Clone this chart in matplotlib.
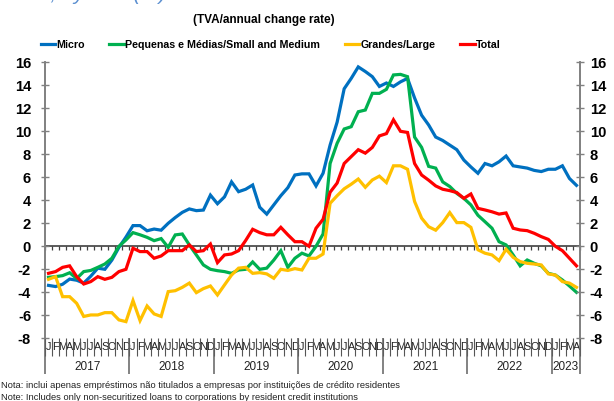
import matplotlib
matplotlib.use('Agg')
import matplotlib.pyplot as plt
from matplotlib import font_manager as fm
import numpy as np

# ---------------- data ----------------
month_letters = ['J', 'F', 'M', 'A', 'M', 'J', 'J', 'A', 'S', 'O', 'N', 'D']
years = ['2017', '2018', '2019', '2020', '2021', '2022', '2023']
n_months = 76  # Jan 2017 .. Apr 2023

micro = [-3.4, -3.5, -3.3, -2.85, -2.95, -3.2, -2.6, -1.9, -2.0, -1.2,
         -0.1, 0.8, 1.8, 1.8, 1.35, 1.5, 1.4, 2.0, 2.5, 2.95,
         3.25, 3.1, 3.15, 4.45, 3.7, 4.3, 5.6, 4.75, 4.96, 5.33,
         3.4, 2.8, 3.6, 4.4, 5.1, 6.2, 6.3, 6.3, 5.25, 6.35,
         8.8, 10.8, 13.7, 14.6, 15.6, 15.2, 14.75, 13.9, 14.2, 13.9,
         14.3, 14.6, 12.9, 11.4, 10.55, 9.5, 9.2, 8.8, 8.4, 7.5,
         6.9, 6.35, 7.2, 7.0, 7.35, 7.85, 7.0, 6.9, 6.8, 6.6,
         6.5, 6.7, 6.7, 7.0, 5.9, 5.3]

pme = [-2.7, -2.64, -2.55, -2.3, -2.8, -2.2, -2.1, -1.83, -1.54, -1.04,
       0.0, 0.55, 1.19, 1.0, 0.78, 0.49, 0.67, -0.09, 0.99, 1.07,
       0.12, -0.75, -1.62, -2.0, -2.12, -2.2, -2.35, -2.06, -2.0, -1.36,
       -2.0, -1.9, -1.2, -0.38, -1.83, -1.04, -0.6, -0.84, 0.0, 1.07,
       7.2, 8.96, 10.2, 10.4, 11.7, 11.85, 13.3, 13.3, 13.65, 14.9,
       14.95, 14.75, 9.5, 8.6, 6.95, 6.8, 5.6, 5.2, 4.6, 4.17,
       3.6, 2.7, 2.14, 1.57, 0.4, 0.12, -0.75, -1.7, -1.19, -1.48,
       -1.7, -2.35, -2.5, -2.93, -3.45, -4.0]

grandes = [-2.87, -2.64, -4.38, -4.38, -4.96, -6.1, -5.97, -5.97, -5.77, -5.77,
           -6.4, -6.55, -4.72, -6.46, -5.19, -5.88, -6.1, -3.94, -3.86, -3.57,
           -3.2, -4.03, -3.68, -3.45, -4.23, -3.36, -2.5, -1.9, -1.83, -2.35,
           -2.29, -2.4, -2.78, -2.0, -2.1, -1.94, -2.06, -1.04, -1.04, -0.67,
           3.74, 4.4, 5.0, 5.4, 5.85, 5.13, 5.77, 6.1, 5.54, 7.0,
           7.0, 6.7, 3.9, 2.45, 1.7, 1.4, 2.06, 2.93, 2.06, 2.06,
           1.65, -0.3, -0.6, -0.75, -1.25, -0.26, -0.96, -1.33, -1.48, -1.54,
           -1.62, -2.4, -2.5, -3.07, -3.2, -3.57]

total = [-2.35, -2.2, -1.83, -1.7, -2.64, -3.28, -3.07, -2.64, -2.87, -2.7,
         -2.2, -2.0, -0.17, -0.46, -0.46, -1.04, -0.84, -0.38, -0.38, -0.38,
         0.12, -0.46, -0.38, 0.2, -1.42, -0.75, -0.67, -0.38, 0.5, 1.48,
         1.19, 1.0, 1.0, 1.65, 1.0, 0.4, 0.4, 0.0, 1.57, 2.35,
         4.7, 5.5, 7.2, 7.8, 8.4, 8.1, 8.6, 9.6, 9.8, 11.0,
         10.0, 9.9, 7.2, 6.2, 5.75, 5.25, 4.96, 4.84, 4.67, 4.17,
         4.55, 3.3, 3.16, 3.0, 2.8, 2.9, 1.57, 1.42, 1.36, 1.13,
         0.84, 0.6, 0.0, -0.38, -1.04, -1.7]

series_labels = ['Micro', 'Pequenas e Médias/Small and Medium', 'Grandes/Large', 'Total']
series_colors = ['#0070C0', '#00B050', '#FFC000', '#FF0000']

title = '(TVA/annual change rate)'
note_pt = 'Nota: inclui apenas empréstimos não titulados a empresas por instituições de crédito residentes'
note_en = 'Note: Includes only non-securitized loans to corporations by resident credit institutions'
top_cut = 's, by size (%)'

# ---------------- fonts ----------------
names = {f.name for f in fm.fontManager.ttflist}
narrow = 'Liberation Sans Narrow' in names
FONT = 'Liberation Sans Narrow' if narrow else 'Liberation Sans'
k = 1.0 if narrow else 0.82
plt.rcParams['font.family'] = [FONT, 'DejaVu Sans']

W, H = 614, 401
fig = plt.figure(figsize=(W / 100, H / 100), dpi=100)
ax = fig.add_axes([45 / W, 1 - 338.3 / H, 535 / W, 276 / H])

x = np.arange(n_months)
for vals, lab, col in zip([micro, pme, grandes, total], series_labels, series_colors):
    ax.plot(x, vals, color=col, lw=2.3, label=lab, solid_joinstyle='miter', zorder=3)

ax.set_xlim(-0.5, n_months - 0.5)
ax.set_ylim(-8, 16)
yt = np.arange(-8, 17, 2)
grey = '#808080'

ax.set_yticks(yt)
ax.set_yticklabels([str(v) for v in yt])
ax.tick_params(axis='y', direction='inout', length=6, width=1, color=grey, pad=7,
               labelsize=13 * k, labelcolor='black')
for lbl in ax.get_yticklabels():
    lbl.set_fontweight('bold')

ax2 = ax.twinx()
ax2.set_ylim(-8, 16)
ax2.set_yticks(yt)
ax2.set_yticklabels([str(v) for v in yt])
ax2.tick_params(axis='y', direction='inout', length=6, width=1, color=grey, pad=4,
                labelsize=13 * k, labelcolor='black')
for lbl in ax2.get_yticklabels():
    lbl.set_fontweight('bold')

for a in (ax, ax2):
    a.spines['top'].set_visible(False)
    a.spines['bottom'].set_visible(False)
    a.spines['left'].set_color(grey)
    a.spines['right'].set_color(grey)
    a.spines['left'].set_linewidth(1.2)
    a.spines['right'].set_linewidth(1.2)

# month labels and boundaries along the bottom
bounds = np.arange(-0.5, n_months, 1.0)
ax.set_xticks(x)
ax.set_xticklabels((month_letters * 7)[:n_months])
ax.set_xticks(bounds, minor=True)
ax.tick_params(axis='x', which='major', length=0, pad=3, labelsize=9.6 * k, labelcolor='#222222')
ax.tick_params(axis='x', which='minor', length=13, width=0.8, color='#555555', direction='out')

# zero axis with small month ticks
sec = ax.secondary_xaxis(1 / 3)
sec.set_xticks(bounds)
sec.set_xticklabels([])
sec.tick_params(axis='x', direction='out', length=3, width=0.9, color='#404040')
sec.spines['bottom'].set_color('#404040')
sec.spines['bottom'].set_linewidth(1.2)

# year separators and labels
year_edges = [12 * i - 0.5 for i in range(len(years))] + [n_months - 0.5]
ax.vlines(year_edges, -0.13, 0, transform=ax.get_xaxis_transform(), colors='#606060',
          lw=1.1, clip_on=False)
for i, yr in enumerate(years):
    c = (year_edges[i] + year_edges[i + 1]) / 2
    ax.text(c, -0.105, yr, transform=ax.get_xaxis_transform(), ha='center', va='center',
            fontsize=10.3 * k, color='#222222')

# legend
ax.legend(loc='center', bbox_to_anchor=(270.5 / W, 1 - 44.5 / H), bbox_transform=fig.transFigure,
          ncol=4, frameon=False, handlelength=1.4, handletextpad=0.1, columnspacing=2.3,
          borderpad=0, borderaxespad=0, prop={'weight': 'bold', 'size': 9.3 * k})

fig.text(263.5 / W, 1 - 20.5 / H, title, ha='center', va='center', fontweight='bold',
         fontsize=10.3 * k)
fig.text(1 / W, 1 - 386 / H, note_pt, ha='left', va='center', fontsize=8.2 * k, color='#222222')
fig.text(1 / W, 1 - 397.5 / H, note_en, ha='left', va='center', fontsize=8.2 * k, color='#222222')
fig.text(40 / W, 1 - 0.5 / H, top_cut, ha='left', va='baseline', fontsize=18.5 * k,
         style='italic', color='#5B8FD0')

fig.savefig('out.png', dpi=100)
